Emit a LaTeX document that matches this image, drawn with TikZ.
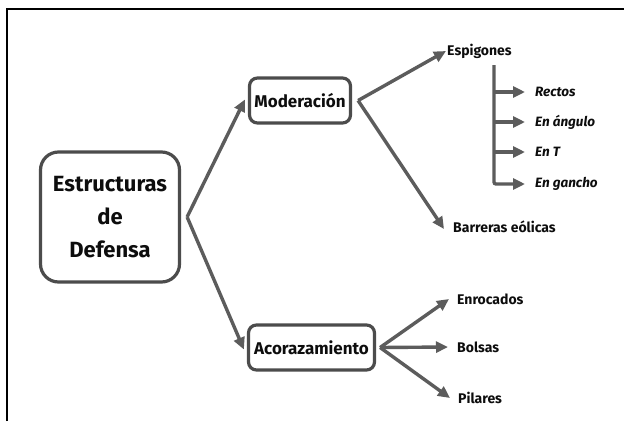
\documentclass[tikz,border=0pt]{standalone}
\usepackage{fontspec}
\setmainfont{Fira Sans}
\usetikzlibrary{arrows.meta}
\definecolor{arrgray}{gray}{0.36}
\definecolor{boxgray}{gray}{0.3}
\definecolor{txt}{gray}{0.05}
\begin{document}
\begin{tikzpicture}[x=1pt,y=-1pt,
  box/.style={draw=boxgray, line width=3.2pt, rounded corners=8pt, inner sep=0pt, text=txt,
    font=\fontsize{17}{20}\selectfont\bfseries},
  arr/.style={draw=arrgray, line width=3.4pt, -{Triangle[length=12pt,width=11pt]}},
  leaf/.style={anchor=west, inner sep=0pt, text=txt, font=\fontsize{14}{16}\selectfont\bfseries},
  sub/.style={anchor=west, inner sep=0pt, text=txt, font=\fontsize{13.5}{15}\selectfont\bfseries\itshape},
  frameline/.style={draw=black, line width=2pt}]
\useasboundingbox (0,0) rectangle (624,421);
\fill[white] (0,0) rectangle (624,421);
\draw[frameline] (6.5,421) -- (6.5,8.5) -- (624,8.5);

% boxes
\node[box, rounded corners=18pt, minimum width=139pt, minimum height=130pt, align=center,
  font=\fontsize{22}{33}\selectfont\bfseries] (main) at (110,217) {Estructuras\\de\\Defensa};
\node[box, minimum width=101pt, minimum height=45pt] (mod) at (300,100.5) {Moderación};
\node[box, minimum width=126pt, minimum height=45pt] (acor) at (311.5,347.5) {Acorazamiento};

% leaves
\node[leaf] (esp) at (447,51) {Espigones};
\node[leaf] (barr) at (453,227) {Barreras eólicas};
\node[leaf] (enro) at (457,299) {Enrocados};
\node[leaf] (bols) at (457,347) {Bolsas};
\node[leaf] (pil) at (458,398) {Pilares};

\node[sub] (rect) at (535,92) {Rectos};
\node[sub] (ang) at (535,122) {En ángulo};
\node[sub] (ent) at (535,152) {En T};
\node[sub] (ganc) at (535,184) {En gancho};

% split points
\coordinate (s0) at ([xshift=6pt]main.east);
\coordinate (s1) at ([xshift=6pt]mod.east);
\coordinate (s2) at ([xshift=4pt]acor.east);
\coordinate (vtop) at (494,65);

\draw[arr] (s0) -- ([xshift=-3pt,yshift=1pt]mod.west);
\draw[arr] (s0) -- ([xshift=-3pt,yshift=-2pt]acor.west);

\draw[arr] (s1) -- ([xshift=-1pt]esp.west);
\draw[arr] (s1) -- ([xshift=-9pt,yshift=-2pt]barr.west);

\draw[arr] (s2) -- ([xshift=-8pt]enro.west);
\draw[arr] (s2) -- ([xshift=-9pt]bols.west);
\draw[arr] (s2) -- ([xshift=-8pt]pil.west);

\draw[arr] (vtop |- rect.west) -- ([xshift=-10pt]rect.west);
\draw[arr] (vtop |- ang.west) -- ([xshift=-10pt]ang.west);
\draw[arr] (vtop |- ent.west) -- ([xshift=-10pt]ent.west);
\draw[arr, rounded corners=2pt] (vtop) |- ([xshift=-10pt]ganc.west);
\end{tikzpicture}
\end{document}
